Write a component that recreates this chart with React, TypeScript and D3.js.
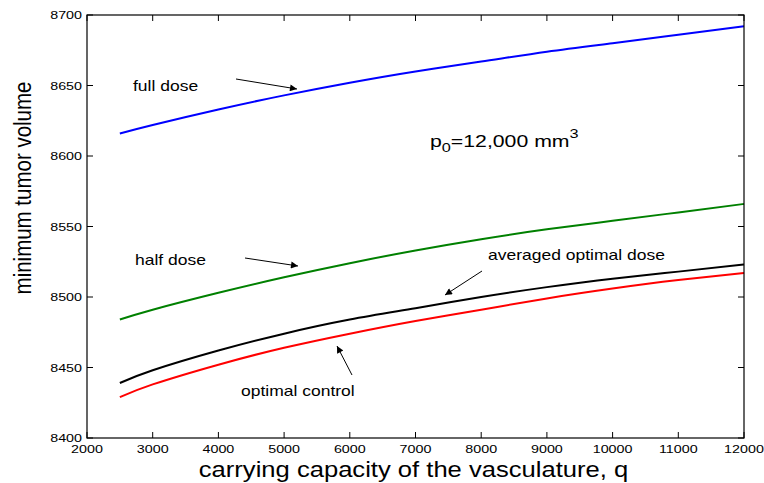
import { useMemo } from 'react';
import * as d3 from 'd3';

// carrying capacity values (x)
const capacity = [2500, 3000, 4000, 5000, 6000, 7000, 8000, 9000, 10000, 11000, 12000];
// minimum tumor volume for each treatment
const fullDose = [8616, 8622, 8633, 8643, 8652, 8660, 8667, 8674, 8680, 8686, 8692];
const halfDose = [8484, 8491, 8503, 8514, 8524, 8533, 8541, 8548, 8554, 8560, 8566];
const averagedDose = [8439, 8448, 8462, 8474, 8484, 8492, 8500, 8507, 8513, 8518, 8523];
const optimalControl = [8429, 8438, 8452, 8464, 8474, 8483, 8491, 8499, 8506, 8512, 8517];

const xTicks = [2000, 3000, 4000, 5000, 6000, 7000, 8000, 9000, 10000, 11000, 12000];
const yTicks = [8400, 8450, 8500, 8550, 8600, 8650, 8700];

const seriesList = [
  { name: 'full dose', values: fullDose, color: '#0000ff' },
  { name: 'half dose', values: halfDose, color: '#008000' },
  { name: 'averaged optimal dose', values: averagedDose, color: '#000000' },
  { name: 'optimal control', values: optimalControl, color: '#ff0000' },
];

const W = 764;
const H = 483;
const FONT = '"Liberation Sans", Arial, Helvetica, sans-serif';
const SX = 1.25; // the source figure is a bit stretched horizontally

function Txt(props: { x: number; y: number; size: number; anchor?: string; sx?: number; children: any }) {
  const { x, y, size, anchor, sx, children } = props;
  return (
    <text
      transform={`translate(${x},${y}) scale(${sx ?? SX},1)`}
      fontSize={size}
      fontFamily={FONT}
      textAnchor={anchor ?? 'start'}
      fill="#000"
    >
      {children}
    </text>
  );
}

export default function App() {
  const x = useMemo(() => d3.scaleLinear().domain([2000, 12000]).range([87, 744]), []);
  const y = useMemo(() => d3.scaleLinear().domain([8400, 8700]).range([438, 15]), []);

  const line = d3
    .line<number>()
    .x((_, i) => x(capacity[i]))
    .y((d) => y(d))
    .curve(d3.curveNatural);

  const [x0, x1] = x.range();
  const [y0, y1] = y.range();

  // annotation arrows: [fromX, fromY, toX, toY]
  const arrows = [
    [236, 79, 297, 89],
    [245, 258, 298, 266],
    [482, 271, 445, 295],
    [352, 375, 337, 346],
  ];

  return (
    <svg width={W} height={H} style={{ position: 'absolute', left: 0, top: 0, background: '#fff' }}>
      <defs>
        <marker id="head" viewBox="0 0 10 10" refX="10" refY="5" markerWidth="10" markerHeight="7" orient="auto" markerUnits="userSpaceOnUse">
          <path d="M0,0 L10,5 L0,10 z" fill="#000" />
        </marker>
      </defs>

      {seriesList.map((s) => (
        <path key={s.name} d={line(s.values) ?? ''} fill="none" stroke={s.color} strokeWidth={2} />
      ))}

      {/* axes box */}
      <rect x={x0} y={y1} width={x1 - x0} height={y0 - y1} fill="none" stroke="#000" strokeWidth={1.2} />

      {xTicks.map((t) => (
        <g key={'x' + t}>
          <line x1={x(t)} x2={x(t)} y1={y0} y2={y0 - 6} stroke="#000" />
          <line x1={x(t)} x2={x(t)} y1={y1} y2={y1 + 6} stroke="#000" />
          <Txt x={x(t)} y={y0 + 15} size={11} sx={1.3} anchor="middle">{t}</Txt>
        </g>
      ))}
      {yTicks.map((t) => (
        <g key={'y' + t}>
          <line x1={x0} x2={x0 + 6} y1={y(t)} y2={y(t)} stroke="#000" />
          <line x1={x1} x2={x1 - 6} y1={y(t)} y2={y(t)} stroke="#000" />
          <Txt x={x0 - 5} y={y(t) + 4} size={11} sx={1.3} anchor="end">{t}</Txt>
        </g>
      ))}

      {/* axis titles */}
      <Txt x={(x0 + x1) / 2 - 2} y={477} size={21.5} sx={1.19} anchor="middle">carrying capacity of the vasculature, q</Txt>
      <text
        transform={`translate(31,${188}) scale(1.2,1) rotate(-90)`}
        fontSize={20.5}
        fontFamily={FONT}
        textAnchor="middle"
        fill="#000"
      >
        minimum tumor volume
      </text>

      {/* annotations */}
      <Txt x={133} y={91} size={14}>full dose</Txt>
      <Txt x={135} y={265} size={14}>half dose</Txt>
      <Txt x={488} y={260} size={14}>averaged optimal dose</Txt>
      <Txt x={241} y={396} size={14}>optimal control</Txt>
      {arrows.map((a, i) => (
        <line key={'a' + i} x1={a[0]} y1={a[1]} x2={a[2]} y2={a[3]} stroke="#000" strokeWidth={1} markerEnd="url(#head)" />
      ))}

      <text transform="translate(430,147) scale(1.25,1)" fontSize={17} fontFamily={FONT} fill="#000">
        p<tspan fontSize={13} dy={5}>0</tspan>
        <tspan dy={-5}>=12,000 mm</tspan>
        <tspan fontSize={13} dy={-9}>3</tspan>
      </text>
    </svg>
  );
}
